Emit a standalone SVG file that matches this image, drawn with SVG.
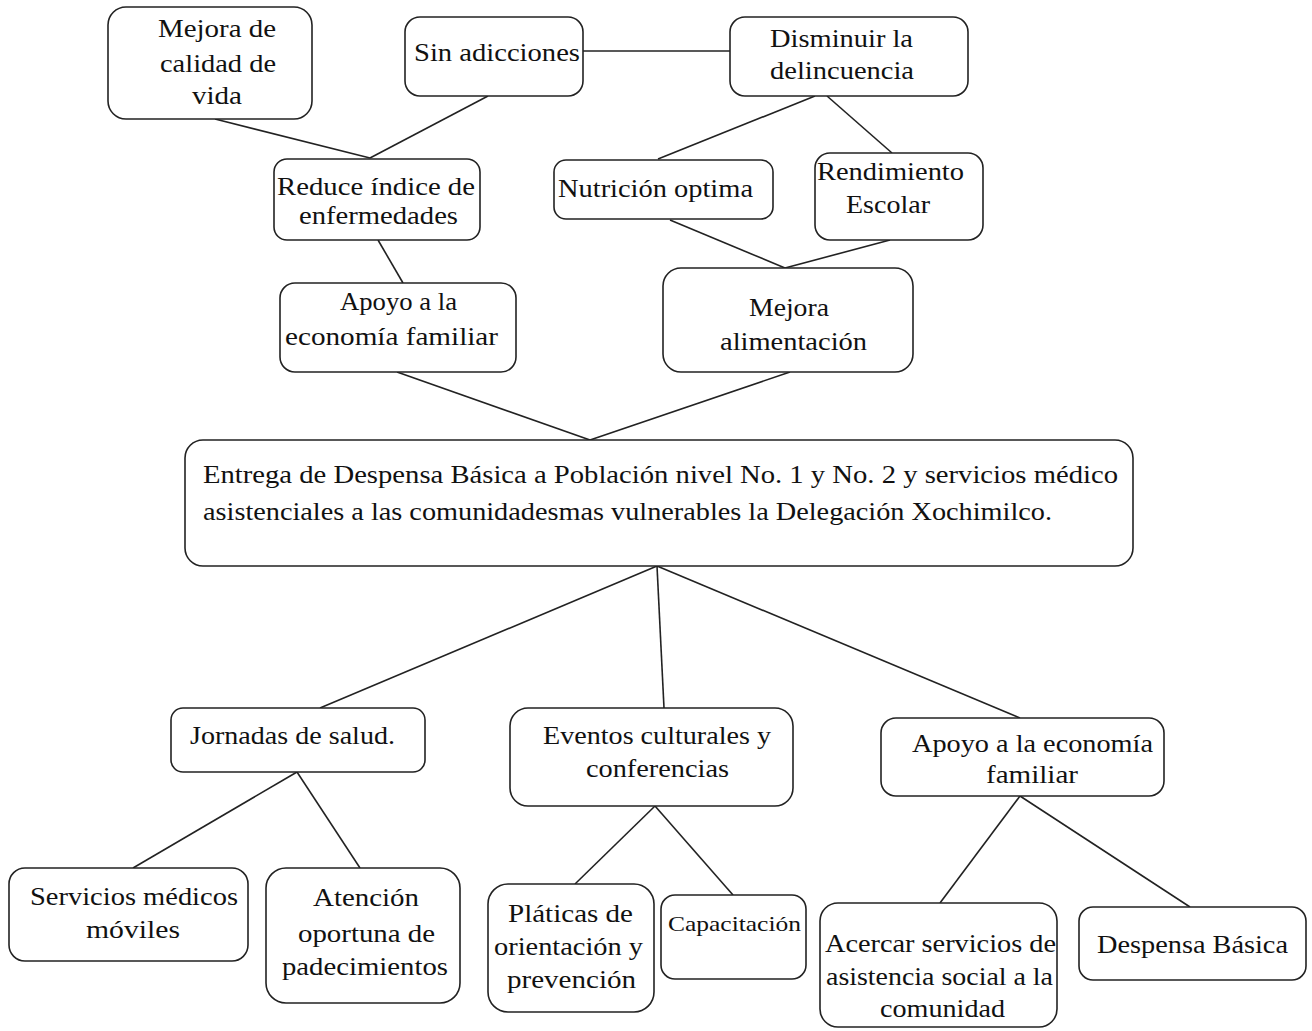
<svg xmlns="http://www.w3.org/2000/svg" width="1312" height="1031" viewBox="0 0 1312 1031">
<style>
.box{fill:#fff;stroke:#222;stroke-width:1.6}
.ln{stroke:#222;stroke-width:1.6;fill:none}
text{font-family:"Liberation Serif","Times New Roman",serif;font-size:26px;fill:#111}
.sm{font-size:22px}
</style>
<rect width="1312" height="1031" fill="#fff"/>
<g id="connectors">
<line class="ln" x1="215" y1="119" x2="370" y2="158"/>
<line class="ln" x1="488" y1="96" x2="370" y2="158"/>
<line class="ln" x1="583" y1="51" x2="730" y2="51"/>
<line class="ln" x1="815" y1="96" x2="658" y2="159"/>
<line class="ln" x1="827" y1="96" x2="892" y2="153"/>
<line class="ln" x1="670" y1="220" x2="785" y2="268"/>
<line class="ln" x1="890" y1="240" x2="785" y2="268"/>
<line class="ln" x1="378" y1="240" x2="403" y2="283"/>
<line class="ln" x1="397" y1="372" x2="590" y2="440"/>
<line class="ln" x1="790" y1="372" x2="590" y2="440"/>
<line class="ln" x1="657" y1="566" x2="320" y2="708"/>
<line class="ln" x1="657" y1="566" x2="664" y2="708"/>
<line class="ln" x1="657" y1="566" x2="1020" y2="718"/>
<line class="ln" x1="297" y1="772" x2="133" y2="868"/>
<line class="ln" x1="297" y1="772" x2="360" y2="868"/>
<line class="ln" x1="655" y1="806" x2="575" y2="884"/>
<line class="ln" x1="655" y1="806" x2="733" y2="895"/>
<line class="ln" x1="1020" y1="796" x2="940" y2="903"/>
<line class="ln" x1="1020" y1="796" x2="1190" y2="907"/>
</g>
<g id="n1"><rect class="box" x="108" y="7" width="204" height="112" rx="18"/>
<text x="158" y="37" textLength="118" lengthAdjust="spacingAndGlyphs">Mejora de</text>
<text x="160" y="72" textLength="116" lengthAdjust="spacingAndGlyphs">calidad de</text>
<text x="192" y="104" textLength="50" lengthAdjust="spacingAndGlyphs">vida</text></g>
<g id="n2"><rect class="box" x="405" y="17" width="178" height="79" rx="15"/>
<text x="414" y="61" textLength="166" lengthAdjust="spacingAndGlyphs">Sin adicciones</text></g>
<g id="n3"><rect class="box" x="730" y="17" width="238" height="79" rx="15"/>
<text x="770" y="47" textLength="143" lengthAdjust="spacingAndGlyphs">Disminuir la</text>
<text x="770" y="79" textLength="144" lengthAdjust="spacingAndGlyphs">delincuencia</text></g>
<g id="n4"><rect class="box" x="274" y="159" width="206" height="81" rx="13"/>
<text x="277" y="195" textLength="198" lengthAdjust="spacingAndGlyphs">Reduce índice de</text>
<text x="299" y="224" textLength="159" lengthAdjust="spacingAndGlyphs">enfermedades</text></g>
<g id="n5"><rect class="box" x="554" y="160" width="219" height="59" rx="12"/>
<text x="558" y="197" textLength="195" lengthAdjust="spacingAndGlyphs">Nutrición optima</text></g>
<g id="n6"><rect class="box" x="815" y="153" width="168" height="87" rx="15"/>
<text x="817" y="180" textLength="147" lengthAdjust="spacingAndGlyphs">Rendimiento</text>
<text x="846" y="213" textLength="84" lengthAdjust="spacingAndGlyphs">Escolar</text></g>
<g id="n7"><rect class="box" x="280" y="283" width="236" height="89" rx="15"/>
<text x="340" y="310" textLength="117" lengthAdjust="spacingAndGlyphs">Apoyo a la</text>
<text x="285" y="345" textLength="213" lengthAdjust="spacingAndGlyphs">economía familiar</text></g>
<g id="n8"><rect class="box" x="663" y="268" width="250" height="104" rx="18"/>
<text x="749" y="316" textLength="80" lengthAdjust="spacingAndGlyphs">Mejora</text>
<text x="720" y="350" textLength="147" lengthAdjust="spacingAndGlyphs">alimentación</text></g>
<g id="n9"><rect class="box" x="185" y="440" width="948" height="126" rx="18"/>
<text x="203" y="483" textLength="915" lengthAdjust="spacingAndGlyphs">Entrega de Despensa Básica a Población  nivel No. 1 y No. 2 y servicios  médico</text>
<text x="203" y="520" textLength="849" lengthAdjust="spacingAndGlyphs">asistenciales a las comunidadesmas vulnerables  la Delegación Xochimilco.</text></g>
<g id="n10"><rect class="box" x="171" y="708" width="254" height="64" rx="12"/>
<text x="190" y="744" textLength="205" lengthAdjust="spacingAndGlyphs">Jornadas de salud.</text></g>
<g id="n11"><rect class="box" x="510" y="708" width="283" height="98" rx="18"/>
<text x="543" y="744" textLength="228" lengthAdjust="spacingAndGlyphs">Eventos culturales y</text>
<text x="586" y="777" textLength="143" lengthAdjust="spacingAndGlyphs">conferencias</text></g>
<g id="n12"><rect class="box" x="881" y="718" width="283" height="78" rx="15"/>
<text x="912" y="752" textLength="241" lengthAdjust="spacingAndGlyphs">Apoyo a la economía</text>
<text x="986" y="783" textLength="92" lengthAdjust="spacingAndGlyphs">familiar</text></g>
<g id="n13"><rect class="box" x="9" y="868" width="239" height="93" rx="16"/>
<text x="30" y="905" textLength="208" lengthAdjust="spacingAndGlyphs">Servicios médicos</text>
<text x="86" y="938" textLength="94" lengthAdjust="spacingAndGlyphs">móviles</text></g>
<g id="n14"><rect class="box" x="266" y="868" width="194" height="135" rx="20"/>
<text x="313" y="906" textLength="106" lengthAdjust="spacingAndGlyphs">Atención</text>
<text x="298" y="942" textLength="137" lengthAdjust="spacingAndGlyphs">oportuna de</text>
<text x="282" y="975" textLength="166" lengthAdjust="spacingAndGlyphs">padecimientos</text></g>
<g id="n15"><rect class="box" x="488" y="884" width="166" height="128" rx="20"/>
<text x="508" y="922" textLength="125" lengthAdjust="spacingAndGlyphs">Pláticas de</text>
<text x="494" y="955" textLength="149" lengthAdjust="spacingAndGlyphs">orientación y</text>
<text x="507" y="988" textLength="129" lengthAdjust="spacingAndGlyphs">prevención</text></g>
<g id="n16"><rect class="box" x="661" y="895" width="145" height="84" rx="14"/>
<text class="sm" x="668" y="931" textLength="133" lengthAdjust="spacingAndGlyphs">Capacitación</text></g>
<g id="n17"><rect class="box" x="820" y="903" width="237" height="124" rx="18"/>
<text x="825" y="952" textLength="231" lengthAdjust="spacingAndGlyphs">Acercar servicios de</text>
<text x="826" y="985" textLength="227" lengthAdjust="spacingAndGlyphs">asistencia social a la</text>
<text x="880" y="1017" textLength="125" lengthAdjust="spacingAndGlyphs">comunidad</text></g>
<g id="n18"><rect class="box" x="1079" y="907" width="227" height="73" rx="14"/>
<text x="1097" y="953" textLength="191" lengthAdjust="spacingAndGlyphs">Despensa Básica</text></g>
</svg>
